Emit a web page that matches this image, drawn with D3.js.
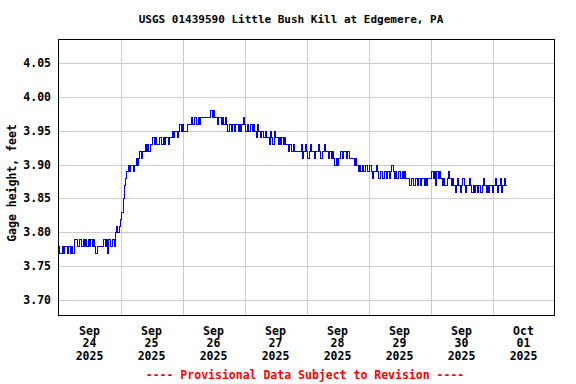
<!DOCTYPE html>
<html>
<head>
<meta charset="utf-8">
<script src="https://cdn.jsdelivr.net/npm/d3@7"></script>
<style>
  body { margin: 0; background: #fff; }
  svg { display: block; }
  text { font-family: "DejaVu Sans Mono", "Liberation Mono", monospace; font-weight: bold; }
</style>
</head>
<body>
<svg id="chart"></svg>
<script>
// gage height readings, one value every 30 minutes
const sep24 = [3.78,3.77,3.77,3.78,3.77,3.78,3.78,3.77,3.78,3.77,3.78,3.77,
  3.79,3.79,3.79,3.78,3.79,3.79,3.78,3.79,3.78,3.79,3.78,3.79,3.78,3.79,3.78,3.79,3.78,
  3.77,3.78,3.78,3.78,3.78,3.78,3.79,3.78,3.79,3.77,3.79,3.78,3.78,3.79,3.78,3.80,3.81,3.80,3.81];
const sep25 = [3.82,3.83,3.85,3.87,3.88,3.89,3.90,3.89,3.90,3.90,3.89,3.90,3.91,3.90,
  3.91,3.92,3.91,3.92,3.92,3.93,3.92,3.93,3.92,3.93,3.93,
  3.94,3.93,3.94,3.93,3.93,3.94,3.94,3.93,3.94,3.93,3.94,3.94,3.93,3.94,
  3.94,3.95,3.94,3.95,3.95,3.94,3.95,3.96,3.95];
const sep26 = [3.96,3.95,3.95,3.95,3.96,3.96,3.96,3.97,3.96,3.97,3.97,3.96,3.97,3.96,3.97,3.97,
  3.97,3.97,3.97,3.97,3.97,3.97,3.98,3.97,3.98,3.97,
  3.97,3.96,3.97,3.97,3.96,3.97,3.96,3.97,
  3.96,3.95,3.96,3.96,3.95,3.96,3.95,3.96,3.96,3.95,3.96,3.95,3.96,3.97];
const sep27 = [3.96,3.95,3.96,3.95,3.95,3.96,3.95,3.96,
  3.95,3.94,3.96,3.95,3.94,3.95,3.95,3.94,3.95,3.94,
  3.94,3.93,3.95,3.94,3.93,3.95,3.94,3.94,
  3.93,3.94,3.93,3.94,3.93,3.94,3.93,3.93,
  3.92,3.93,3.92,3.92,3.93,3.92,3.92,3.92,3.92,3.92,3.93,3.91,3.92,3.93];
const sep28 = [3.92,3.91,3.92,3.93,3.92,3.92,3.91,3.92,3.92,3.93,3.92,3.91,3.92,3.92,3.93,3.92,3.92,3.91,3.92,
  3.91,3.92,3.91,3.90,3.91,3.90,3.91,3.92,
  3.92,3.91,3.92,3.92,3.91,3.92,3.91,3.91,
  3.91,3.91,3.90,3.91,
  3.90,3.89,3.90,3.89,3.90,3.89,3.89,3.90,3.89];
const sep29 = [3.89,3.90,3.89,3.88,3.89,3.89,3.90,3.89,3.88,3.89,3.89,3.88,3.89,3.89,
  3.88,3.89,3.88,3.89,3.90,3.89,3.88,3.89,3.88,3.89,3.89,3.88,3.89,3.88,3.89,3.88,3.88,
  3.88,3.87,3.88,3.88,3.87,3.88,3.88,3.87,3.88,3.87,3.88,3.88,3.87,3.88,3.87,3.88,3.88];
const sep30 = [3.88,3.89,3.88,3.89,3.87,3.89,3.88,3.89,
  3.88,3.87,3.88,3.87,3.87,3.88,3.89,3.88,3.87,3.88,
  3.87,3.86,3.87,3.88,3.87,3.86,3.87,3.88,3.87,3.86,3.87,3.87,3.88,3.87,3.86,3.87,
  3.86,3.87,3.86,3.87,3.87,3.86,3.87,3.88,3.87,3.86,3.87,3.86,3.87,3.87];
const oct01 = [3.86,3.87,3.88,3.87,3.86,3.87,3.88,3.86,3.87,3.88,3.87,3.87];

const dayStarts = ["2025-09-24","2025-09-25","2025-09-26","2025-09-27","2025-09-28","2025-09-29","2025-09-30","2025-10-01"];
const dayValues = [sep24, sep25, sep26, sep27, sep28, sep29, sep30, oct01];
const yTicks = [3.70, 3.75, 3.80, 3.85, 3.90, 3.95, 4.00, 4.05];

const titleText = "USGS 01439590 Little Bush Kill at Edgemere, PA";
const yLabel = "Gage height, feet";
const footer = "---- Provisional Data Subject to Revision ----";

const parseDay = d3.timeParse("%Y-%m-%d");
const data = [];
dayStarts.forEach((s, i) => {
    const t0 = parseDay(s);
    dayValues[i].forEach((v, j) => data.push({t: d3.timeMinute.offset(t0, j * 30), v: v}));
});

const W = 576, H = 384;
const margin = {top: 39, left: 58, right: 21, bottom: 68};
const plotW = W - margin.left - margin.right;
const plotH = H - margin.top - margin.bottom;

const svg = d3.select("#chart").attr("width", W).attr("height", H);

const x = d3.scaleTime()
    .domain([parseDay("2025-09-24"), parseDay("2025-10-02")])
    .range([margin.left + 0.5, margin.left + plotW - 0.5]);
const y = d3.scaleLinear()
    .domain([3.677, 4.084])
    .range([margin.top + plotH, margin.top + 0.5]);

// grid
const days = d3.timeDay.range(parseDay("2025-09-25"), parseDay("2025-10-02"));
svg.append("g")
    .selectAll("line")
    .data(days)
    .join("line")
    .attr("x1", d => Math.round(x(d)) + 0.5)
    .attr("x2", d => Math.round(x(d)) + 0.5)
    .attr("y1", margin.top)
    .attr("y2", margin.top + plotH)
    .attr("stroke", "#cccccc");
svg.append("g")
    .selectAll("line")
    .data(yTicks)
    .join("line")
    .attr("x1", margin.left)
    .attr("x2", margin.left + plotW)
    .attr("y1", d => Math.round(y(d)) + 0.5)
    .attr("y2", d => Math.round(y(d)) + 0.5)
    .attr("stroke", "#cccccc");

// series
const line = d3.line()
    .x(d => x(d.t))
    .y(d => Math.round(y(d.v)) + 0.5)
    .curve(d3.curveStepAfter);
svg.append("path")
    .datum(data)
    .attr("d", line)
    .attr("fill", "none")
    .attr("stroke", "#0000ff")
    .attr("stroke-width", 1)
    .attr("shape-rendering", "crispEdges");

// frame
svg.append("rect")
    .attr("x", margin.left + 0.5)
    .attr("y", margin.top + 0.5)
    .attr("width", plotW - 1)
    .attr("height", plotH - 1)
    .attr("fill", "none")
    .attr("stroke", "#000");

// y tick labels
svg.append("g")
    .selectAll("text")
    .data(yTicks)
    .join("text")
    .attr("x", 51)
    .attr("y", d => y(d))
    .attr("dy", "0.35em")
    .attr("text-anchor", "end")
    .attr("font-size", 11.5)
    .text(d => d3.format(".2f")(d));

// x tick labels at noon of each day
const fmtLines = [d3.timeFormat("%b"), d3.timeFormat("%d"), d3.timeFormat("%Y")];
const labelDays = d3.timeDay.range(parseDay("2025-09-24"), parseDay("2025-10-02"));
const xl = svg.append("g")
    .selectAll("text")
    .data(labelDays)
    .join("text")
    .attr("text-anchor", "middle")
    .attr("font-size", 11.5);
fmtLines.forEach((f, k) => {
    xl.append("tspan")
        .attr("x", d => x(d3.timeHour.offset(d, 12)))
        .attr("y", 334.5 + k * 12.7)
        .text(d => f(d));
});

// title, axis title, footer
svg.append("text")
    .attr("x", 291)
    .attr("y", 23)
    .attr("text-anchor", "middle")
    .attr("font-size", 11)
    .text(titleText);

svg.append("text")
    .attr("transform", "translate(16,183) rotate(-90)")
    .attr("text-anchor", "middle")
    .attr("font-size", 11.5)
    .text(yLabel);

svg.append("text")
    .attr("x", 305)
    .attr("y", 379)
    .attr("text-anchor", "middle")
    .attr("font-size", 11.5)
    .attr("fill", "#ff0000")
    .text(footer);
</script>
</body>
</html>
